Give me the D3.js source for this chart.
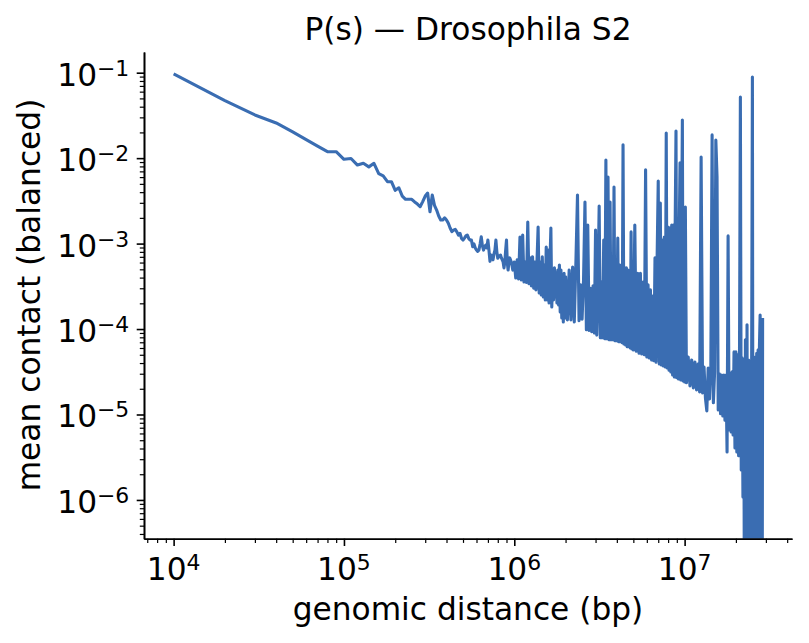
<!DOCTYPE html>
<html>
<head>
<meta charset="utf-8">
<script src="https://cdn.jsdelivr.net/npm/d3@7"></script>
<style>
  body { margin: 0; background: #fff; }
  text { font-family: "DejaVu Sans", sans-serif; fill: #000; }
</style>
</head>
<body>
<script>
// P(s) for Drosophila S2, 10 kb bins (distance in kb).
// a 0 means an empty bin: it falls to the bottom of the log axis, like matplotlib's clip

const distanceKb = [
  10, 20, 30, 40, 50, 60, 70, 80, 90,
  100, 110, 120, 130, 140, 150, 160, 170, 180, 190,
  200, 210, 220, 230, 240, 250, 260, 270, 280, 290,
  300, 310, 320, 330, 340, 350, 360, 370, 380, 390,
  400, 410, 420, 430, 440, 450, 460, 470, 480, 490,
  500, 510, 520, 530, 540, 550, 560, 570, 580, 590,
  600, 610, 620, 630, 640, 650, 660, 670, 680, 690,
  700, 710, 720, 730, 740, 750, 760, 770, 780, 790,
  800, 810, 820, 830, 840, 850, 860, 870, 880, 890,
  900, 910, 920, 930, 940, 950, 960, 970, 980, 990,
  1000,
  1020, 1040, 1060, 1080, 1100, 1120, 1140, 1160, 1180, 1200,
  1220, 1240, 1260, 1280, 1300, 1320, 1340, 1360, 1380, 1400,
  1420, 1440, 1460, 1480, 1500, 1520, 1540, 1560, 1580, 1600,
  1620, 1640, 1660, 1680, 1700, 1720, 1740, 1760, 1780, 1800,
  1820, 1840, 1860, 1880, 1900, 1920, 1940, 1960, 1980, 2000,
  2050, 2100, 2150, 2200, 2250, 2300, 2350, 2400, 2450, 2500,
  2550, 2600, 2650, 2700, 2750, 2800, 2850, 2900, 2950, 3000,
  3050, 3100, 3150, 3200, 3250, 3300, 3350, 3400, 3450, 3500,
  3550, 3600, 3650, 3700, 3750, 3800, 3850, 3900, 3950, 4000,
  4050, 4100, 4150, 4200, 4250, 4300, 4350, 4400, 4450, 4500,
  4550, 4600, 4650, 4700, 4750, 4800, 4850, 4900, 4950, 5000,
  5100, 5200, 5300, 5400, 5500, 5600, 5700, 5800, 5900, 6000,
  6100, 6200, 6300, 6400, 6500, 6600, 6700, 6800, 6900, 7000,
  7100, 7200, 7300, 7400, 7500, 7600, 7700, 7800, 7900, 8000,
  8100, 8200, 8300, 8400, 8500, 8600, 8700, 8800, 8900, 9000,
  9100, 9200, 9300, 9400, 9500, 9600, 9700, 9800, 9900, 10000,
  10100, 10250, 10500, 10750, 11000, 11250, 11500, 11750, 12000, 12250,
  12500, 12750, 13000, 13250, 13500, 13750, 14000, 14250, 14500, 14750,
  15000, 15250, 15500, 15750, 16000, 16250, 16500, 16750, 17000, 17250,
  17500, 17750, 18000, 18250, 18500, 18750, 19000, 19250, 19500, 19750,
  20000, 20250, 20500, 20750, 21000, 21250, 21500, 21750, 22000, 22250,
  22500, 22750, 23000, 23250, 23500, 23750, 24000, 24250, 24500, 24750,
  25000, 25250, 25500, 25750, 26000, 26250, 26500, 26750, 27000, 27250,
  27500, 27750, 28000, 28250, 28500, 28700
];

const meanContact = [
  0.0966, 0.0472, 0.032, 0.0258, 0.0203, 0.0165, 0.0138, 0.0119, 0.0119,
  0.0097, 0.0099, 0.0083, 0.0087, 0.0079, 0.0087, 0.0066, 0.0062, 0.0053, 0.0053,
  0.0042, 0.0045, 0.0036, 0.0033, 0.0033, 0.0033, 0.00307, 0.0029, 0.0027, 0.0031,
  0.0036, 0.0039, 0.00236, 0.0037, 0.0028, 0.00247, 0.0021, 0.00189, 0.00189, 0.0020,
  0.00189, 0.00173, 0.00152, 0.00138, 0.00144, 0.00147, 0.00137, 0.00126, 0.00132, 0.00115,
  0.0011, 0.00116, 0.00123, 0.00126, 0.00115, 0.0011, 0.0011, 0.00092, 0.00099, 0.00089,
  0.00084, 0.00081, 0.00084, 0.00099, 0.0012, 0.00094, 0.00084, 0.00092, 0.00096, 0.00089,
  0.0011, 0.00084, 0.00062, 0.000735, 0.0007, 0.000645, 0.00076, 0.00084, 0.0011, 0.0008,
  0.000675, 0.00072, 0.000705, 0.000735, 0.00068, 0.000645, 0.00061, 0.00052, 0.00061, 0.00084,
  0.0011, 0.000595, 0.00049, 0.00061, 0.00068, 0.000645, 0.00061, 0.00055, 0.00049, 0.00052,
  0.00061,
  3.95e-4, 6.45e-4, 3.85e-4, 1.19e-3, 3.75e-4, 1.26e-3, 3.55e-4, 6.1e-4, 3.5e-4, 1.79e-3,
  3.4e-4, 6.8e-4, 3.2e-4, 7.0e-4, 3.0e-4, 6.1e-4, 2.87e-4, 6.45e-4, 1.56e-3, 2.65e-4,
  6.1e-4, 2.5e-4, 7.0e-4, 2.37e-4, 5.6e-4, 2.19e-4, 9.1e-4, 2.19e-4, 8.4e-4, 2.02e-4,
  6.1e-4, 1.52e-3, 1.81e-4, 4.9e-4, 2.19e-4, 5.2e-4, 2.37e-4, 4.5e-4, 2.02e-4, 4.9e-4,
  1.91e-4, 5.6e-4, 1.58e-4, 4.9e-4, 1.35e-4, 4.2e-4, 1.21e-4, 4.5e-4, 1.35e-4, 4.1e-4,
  1.28e-4, 4.9e-4, 1.28e-4, 5.3e-4, 1.21e-4, 6.1e-4, 3.7e-3, 1.25e-4, 3.3e-4, 1.3e-4,
  3.75e-4, 3.07e-3, 9.8e-5, 1.65e-3, 9.6e-5, 3.0e-4, 9.3e-5, 3.2e-4, 9.0e-5, 1.44e-3,
  8.5e-5, 3.3e-4, 2.75e-3, 7.9e-5, 3.55e-4, 7.9e-5, 1.1e-3, 7.7e-5, 9.5e-3, 7.7e-5,
  6.0e-3, 7.5e-5, 3.07e-3, 7.5e-5, 4.9e-4, 7.5e-5, 4.6e-3, 7.3e-5, 5.3e-4, 7.3e-5,
  1.16e-3, 7.1e-5, 5.6e-4, 7.1e-5, 5.6e-4, 6.9e-5, 1.43e-2, 6.7e-5, 5.2e-4, 6.5e-5,
  5.2e-4, 6.2e-5, 4.9e-4, 6.2e-5, 4.65e-4, 6.0e-5, 1.37e-3, 5.85e-5, 4.65e-4, 5.7e-5,
  1.65e-3, 5.5e-5, 4.5e-4, 5.2e-5, 4.5e-4, 5.1e-5, 3.55e-4, 5.0e-5, 7.3e-3, 4.7e-5,
  3.3e-4, 4.6e-5, 2.87e-4, 4.35e-5, 2.43e-4, 4.25e-5, 6.8e-4, 4.1e-5, 7.35e-4, 5.4e-3,
  3.9e-5, 2.98e-3, 3.8e-5, 1.1e-3, 3.7e-5, 1.19e-3, 3.6e-5, 1.97e-2, 3.5e-5, 1.56e-3,
  3.3e-5, 1.52e-3, 3.15e-5, 1.65e-3, 2.9e-5, 1.65e-3, 2.75e-5, 1.52e-3, 2.08e-2, 2.7e-5,
  1.52e-3, 2.6e-5, 1.44e-3, 8.8e-3, 2.54e-5, 1.37e-3, 2.8e-2, 2.47e-5, 1.1e-3, 2.4e-5,
  2.68e-3, 2.35e-5, 4.7e-5, 2.16e-5, 4.35e-5, 2.05e-5, 4.1e-5, 1.94e-5, 3.9e-5, 1.84e-5,
  1.03e-2, 1.79e-5, 3.6e-5, 1.56e-5, 1.1e-5, 3.5e-5, 1.52e-5, 3.3e-5, 1.87e-2, 1.37e-5,
  3.15e-5, 1.63e-2, 6.0e-3, 1.13e-5, 3.0e-5, 1.02e-5, 2.9e-5, 9.6e-6, 2.9e-5, 8.6e-6,
  2.9e-5, 3.65e-6, 1.23e-3, 6.6e-6, 3.05e-5, 6.25e-6, 3.15e-5, 5.75e-6, 5.4e-5, 4.05e-6,
  5.4e-5, 3.65e-6, 5.0e-5, 3.3e-6, 5.0e-5, 5.2e-2, 2.24e-6, 4.6e-5, 1.08e-6, 4.35e-5,
  0, 7.5e-5, 0, 1.12e-4, 0, 4.35e-5, 0, 4.1e-5, 0, 4.35e-5,
  8.9e-2, 0, 4.0e-5, 0, 4.7e-5, 0, 5.2e-5, 0, 5.7e-5, 0,
  6.5e-5, 1.46e-4, 0, 9.8e-5, 0, 1.35e-4
];

const xMajor = [1e4, 1e5, 1e6, 1e7];
const yMajor = [1e-6, 1e-5, 1e-4, 1e-3, 1e-2, 1e-1];
const xLimits = [6.7e3, 4.27e7];
const yLimits = [3.52e-7, 0.1746];

const titleText = "P(s) \u2014 Drosophila S2";
const xLabelText = "genomic distance (bp)";
const yLabelText = "mean contact (balanced)";

if (distanceKb.length !== meanContact.length) {
  console.error("length mismatch", distanceKb.length, meanContact.length);
}

window.onload = function() {
  drawChart();
}

function minorTicks(domain) {
  // 2..9 times each power of ten inside the axis limits
  let ticks = [];
  let lo = Math.floor(Math.log10(domain[0]));
  let hi = Math.ceil(Math.log10(domain[1]));
  for (let e = lo; e <= hi; e++) {
    for (let m = 2; m <= 9; m++) {
      let v = m * Math.pow(10, e);
      if (v >= domain[0] && v <= domain[1]) ticks.push(v);
    }
  }
  return ticks;
}

function drawChart() {
  const w = 809;
  const h = 643;
  const margin = {left: 144, right: 17, top: 52, bottom: 104.3};
  const plotW = w - margin.left - margin.right;
  const plotH = h - margin.top - margin.bottom;

  const tickFont = 31.25;
  const supFont = 21.9;
  const labelFont = 31.25;

  let svg = d3.select("body")
    .append("svg")
    .attr("width", w)
    .attr("height", h)
    .style("background", "#fff");

  let g = svg.append("g")
    .attr("transform", "translate(" + margin.left + "," + margin.top + ")");

  let xScale = d3.scaleLog().domain(xLimits).range([0, plotW]);
  let yScale = d3.scaleLog().domain(yLimits).range([plotH, 0]);

  // the curve, clipped to the axes box
  svg.append("defs").append("clipPath")
    .attr("id", "plotClip")
    .append("rect")
    .attr("x", 0).attr("y", 0)
    .attr("width", plotW).attr("height", plotH);

  let points = distanceKb.map(function(d, i) {
    return {x: d * 1000, y: meanContact[i]};
  });
  let floorValue = yLimits[0] / 100;

  let line = d3.line()
    .x(function(d) { return xScale(d.x); })
    .y(function(d) { return yScale(Math.max(d.y, floorValue)); });

  g.append("path")
    .datum(points)
    .attr("clip-path", "url(#plotClip)")
    .attr("fill", "none")
    .attr("stroke", "#3a6db2")
    .attr("stroke-width", 3.1)
    .attr("stroke-linejoin", "round")
    .attr("d", line);

  // axes: major and minor ticks, only left and bottom spines
  let xAxis = d3.axisBottom(xScale).tickValues(xMajor)
    .tickSize(7.3).tickSizeOuter(0).tickFormat("");
  let xMinor = d3.axisBottom(xScale).tickValues(minorTicks(xLimits))
    .tickSize(4.2).tickSizeOuter(0).tickFormat("");
  let yAxis = d3.axisLeft(yScale).tickValues(yMajor)
    .tickSize(7.3).tickSizeOuter(0).tickFormat("");
  let yMinor = d3.axisLeft(yScale).tickValues(minorTicks(yLimits))
    .tickSize(4.2).tickSizeOuter(0).tickFormat("");

  let gx = g.append("g").attr("transform", "translate(0," + plotH + ")");
  gx.append("g").attr("class", "minor").call(xMinor);
  gx.append("g").attr("class", "major").call(xAxis);
  let gy = g.append("g");
  gy.append("g").attr("class", "minor").call(yMinor);
  gy.append("g").attr("class", "major").call(yAxis);

  g.selectAll(".domain").attr("stroke", "#000").attr("stroke-width", 1.6);
  g.selectAll(".major .tick line").attr("stroke", "#000").attr("stroke-width", 1.6);
  g.selectAll(".minor .tick line").attr("stroke", "#000").attr("stroke-width", 1.2);

  // tick labels as 10 with a superscript exponent
  function expLabel(sel, v) {
    let e = Math.round(Math.log10(v));
    sel.append("tspan").text("10");
    sel.append("tspan")
      .attr("dy", -10)
      .style("font-size", supFont + "px")
      .text(e < 0 ? "\u2212" + (-e) : String(e));
  }

  xMajor.forEach(function(v) {
    let t = g.append("text")
      .attr("x", xScale(v))
      .attr("y", plotH + 41.3)
      .attr("text-anchor", "middle")
      .style("font-size", tickFont + "px");
    expLabel(t, v);
  });

  yMajor.forEach(function(v) {
    let t = g.append("text")
      .attr("x", -14.7)
      .attr("y", yScale(v) + 13)
      .attr("text-anchor", "end")
      .style("font-size", tickFont + "px");
    expLabel(t, v);
  });

  // titles
  g.append("text")
    .attr("x", plotW / 2)
    .attr("y", -12)
    .attr("text-anchor", "middle")
    .style("font-size", labelFont + "px")
    .text(titleText);

  g.append("text")
    .attr("x", plotW / 2)
    .attr("y", plotH + 81.3)
    .attr("text-anchor", "middle")
    .style("font-size", labelFont + "px")
    .text(xLabelText);

  g.append("text")
    .attr("transform", "translate(" + (40 - margin.left) + "," + (295 - margin.top) + ") rotate(-90)")
    .attr("text-anchor", "middle")
    .style("font-size", labelFont + "px")
    .text(yLabelText);
}
</script>
</body>
</html>
